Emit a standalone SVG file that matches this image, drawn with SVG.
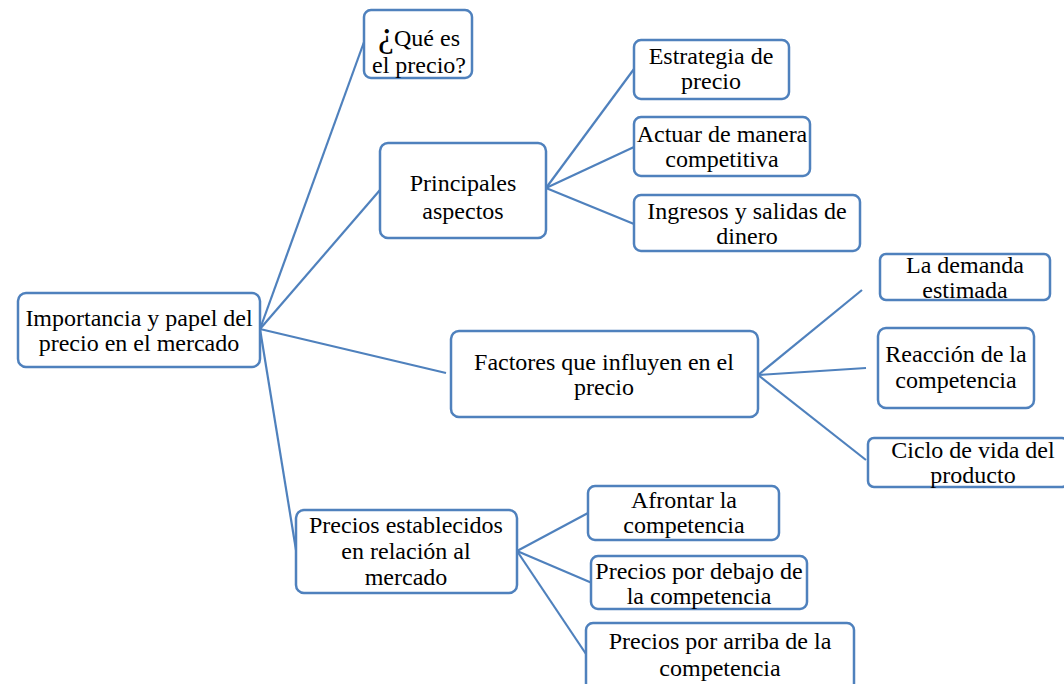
<svg xmlns="http://www.w3.org/2000/svg" width="1064" height="684" viewBox="0 0 1064 684">
<style>
.n{fill:#fff;stroke:#4f81bd;stroke-width:2.5}
.c{stroke:#4f81bd;stroke-width:2.2;fill:none}
text{font-family:"Liberation Serif","Times New Roman",serif;font-size:24px;fill:#000;text-anchor:middle}
</style>
<rect width="1064" height="684" fill="#fff"/>
<g id="connectors">
<line class="c" x1="260" y1="329" x2="364" y2="42"/>
<line class="c" x1="260" y1="329" x2="380" y2="190"/>
<line class="c" x1="260" y1="329" x2="446" y2="373"/>
<line class="c" x1="260" y1="329" x2="296" y2="550"/>
<line class="c" x1="546" y1="188" x2="634" y2="69"/>
<line class="c" x1="546" y1="188" x2="634" y2="147"/>
<line class="c" x1="546" y1="188" x2="634" y2="224"/>
<line class="c" x1="758" y1="375" x2="862" y2="290"/>
<line class="c" x1="758" y1="375" x2="866" y2="368"/>
<line class="c" x1="758" y1="375" x2="866" y2="460"/>
<line class="c" x1="517" y1="551" x2="588" y2="513"/>
<line class="c" x1="517" y1="551" x2="592" y2="583"/>
<line class="c" x1="517" y1="551" x2="586" y2="654"/>
</g>
<g id="root"><rect class="n" x="18" y="293" width="242" height="74" rx="8"/><text x="139" y="326">Importancia y papel del</text><text x="139" y="351">precio en el mercado</text></g>
<g id="que"><rect class="n" x="364" y="10" width="108" height="68" rx="7"/><text x="419" y="46"><tspan font-size="36">¿</tspan>Qué es</text><text x="419" y="73">el precio?</text></g>
<g id="principales"><rect class="n" x="380" y="143" width="166" height="95" rx="8"/><text x="463" y="191">Principales</text><text x="463" y="219">aspectos</text></g>
<g id="estrategia"><rect class="n" x="634" y="40" width="155" height="59" rx="7"/><text x="711" y="64">Estrategia de</text><text x="711" y="89">precio</text></g>
<g id="actuar"><rect class="n" x="634" y="117" width="176" height="59" rx="7"/><text x="722" y="142">Actuar de manera</text><text x="722" y="167">competitiva</text></g>
<g id="ingresos"><rect class="n" x="634" y="195" width="226" height="56" rx="7"/><text x="747" y="219">Ingresos y salidas de</text><text x="747" y="244">dinero</text></g>
<g id="factores"><rect class="n" x="451" y="331" width="307" height="86" rx="8"/><text x="604" y="370">Factores que influyen en el</text><text x="604" y="395">precio</text></g>
<g id="demanda"><rect class="n" x="880" y="254" width="170" height="46" rx="6"/><text x="965" y="273">La demanda</text><text x="965" y="298">estimada</text></g>
<g id="reaccion"><rect class="n" x="878" y="328" width="156" height="80" rx="8"/><text x="956" y="362">Reacción de la</text><text x="956" y="388">competencia</text></g>
<g id="ciclo"><rect class="n" x="868" y="438" width="200" height="49" rx="6"/><text x="973" y="458">Ciclo de vida del</text><text x="973" y="483">producto</text></g>
<g id="establecidos"><rect class="n" x="296" y="510" width="221" height="83" rx="8"/><text x="406" y="533">Precios establecidos</text><text x="406" y="559">en relación al</text><text x="406" y="585">mercado</text></g>
<g id="afrontar"><rect class="n" x="588" y="486" width="191" height="54" rx="7"/><text x="684" y="508">Afrontar la</text><text x="684" y="533">competencia</text></g>
<g id="debajo"><rect class="n" x="591" y="556" width="216" height="53" rx="7"/><text x="699" y="579">Precios por debajo de</text><text x="699" y="604">la competencia</text></g>
<g id="arriba"><rect class="n" x="586" y="623" width="268" height="70" rx="7"/><text x="720" y="649">Precios por arriba de la</text><text x="720" y="676">competencia</text></g>
</svg>
